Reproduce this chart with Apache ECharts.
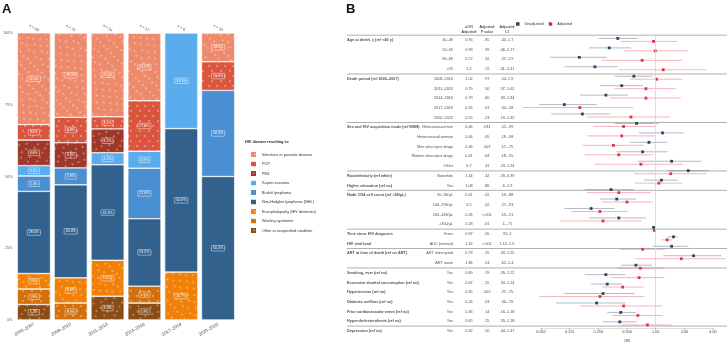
<!DOCTYPE html>
<html>
<head>
<meta charset="utf-8">
<script src="https://cdn.jsdelivr.net/npm/echarts@6/dist/echarts.min.js"></script>
<style>
  html, body { margin: 0; padding: 0; background: #fff; }
  #main { width: 727px; height: 348px; }
</style>
</head>
<body>
<div id="main"></div>
<script>
// ---------- panel A data ----------
var periods = ['2000–2007', '2008–2010', '2011–2013', '2014–2016', '2017–2019', '2020–2022'];
var periodN = [56, 34, 24, 17, 6, 10];
var diseases = ['Infections or parasitic disease', 'PCP', 'PML', 'Kaposi sarcoma', 'Burkitt lymphoma',
  'Non-Hodgkin lymphoma (NHL)', 'Encephalopathy (HIV dementia)', 'Wasting syndrome', 'Other or unspecified condition'];
var pctInfections = [32.1, 29.4, 29.2, 23.5, 0, 10.0];
var pctPCP = [5.4, 8.8, 4.2, 17.6, 0, 10.0];
var pctPML = [8.9, 8.8, 8.3, 0, 0, 0];
var pctKaposi = [3.6, 0, 4.2, 5.9, 33.3, 0];
var pctBurkitt = [5.4, 5.9, 0, 17.6, 0, 30.0];
var pctNHL = [28.6, 32.4, 33.3, 23.5, 50.0, 50.0];
var pctEnceph = [5.4, 8.8, 12.5, 0, 16.7, 0];
var pctWasting = [5.4, 5.9, 0, 5.9, 0, 0];
var pctOther = [5.4, 0, 8.3, 5.9, 0, 0];

// ---------- panel B data ----------
var groupNames = ['Age at death, y (ref <40 y)', 'Death period (ref 2000–2007)', 'Sex and HIV acquisition mode (ref MSM)',
  'Race/ethnicity (ref white)', 'Higher education (ref no)', 'Nadir CD4 cell count (ref <50/µL)',
  'Time since HIV diagnosis', 'HIV viral load', 'ART at time of death (ref on ART)',
  'Smoking, ever (ref no)', 'Excessive alcohol consumption (ref no)', 'Hypertension (ref no)',
  'Diabetes mellitus (ref no)', 'Prior cardiovascular event (ref no)', 'Hypercholesterolemia (ref no)', 'Depression (ref no)'];
var groupRows = [0, 4, 9, 14, 15, 16, 20, 21, 22, 24, 25, 26, 27, 28, 29, 30];
var separatorRows = [0, 4, 9, 14, 16, 20, 22, 24, 30];
var levels = ['40–49', '50–59', '60–69', '≥70', '2008–2010', '2011–2013', '2014–2016', '2017–2019', '2020–2022',
  'Heterosexual men', 'Heterosexual women', 'Men who inject drugs', 'Women who inject drugs', 'Other',
  'Nonwhite', 'Yes', '50–99/µL', '100–199/µL', '200–349/µL', '≥350/µL', 'Years', 'AUC (normal)',
  'ART interrupted', 'ART naive', 'Yes', 'Yes', 'Yes', 'Yes', 'Yes', 'Yes', 'Yes'];
var aor = [0.95, 0.99, 0.72, 1.2, 1.02, 0.79, 0.79, 0.16, 0.55, 0.46, 0.44, 0.36, 0.41, 0.7, 1.44, 1.08,
  0.41, 0.5, 0.26, 0.28, 0.97, 1.32, 0.73, 1.86, 0.69, 0.67, 0.45, 0.26, 0.46, 0.65, 0.82];
var aorLow = [0.43, 0.46, 0.27, 0.41, 0.54, 0.37, 0.33, 0.04, 0.19, 0.22, 0.19, 0.17, 0.18, 0.23, 0.59, 0.60,
  0.19, 0.27, 0.13, 0.1, 0.95, 1.15, 0.43, 0.62, 0.39, 0.34, 0.27, 0.06, 0.16, 0.35, 0.44];
var aorHigh = [1.7, 2.17, 1.9, 3.41, 1.9, 1.62, 1.84, 0.58, 1.42, 0.99, 0.98, 0.75, 0.95, 1.94, 3.39, 1.9,
  0.88, 0.93, 0.51, 0.71, 1, 1.5, 1.25, 5.4, 1.22, 1.24, 0.75, 0.76, 1.18, 1.18, 1.47];
var pValues = ['.85', '.99', '.32', '.72', '.97', '.50', '.60', '.01', '.23', '.031', '.05', '.007', '.04', '.31',
  '.42', '.86', '.02', '.02', '<.001', '.01', '.05', '<.001', '.25', '.24', '.19', '.25', '.002', '.03', '.14', '.15', '.50'];
var uor = [0.40, 0.325, 0.158, 0.23, 0.59, 0.44, 0.30, 0.11, 0.17, 0.63, 1.18, 0.85, 0.73, 1.47, 2.2, 1.15,
  0.34, 0.39, 0.21, 0.41, 0.95, 1.54, 1.47, 2.5, 0.62, 0.30, 0.31, 0.28, 0.24, 0.43, 0.42];
var uorLow = [0.25, 0.20, 0.078, 0.11, 0.37, 0.26, 0.16, 0.06, 0.08, 0.37, 0.67, 0.54, 0.39, 0.65, 1.33, 0.75,
  0.18, 0.26, 0.11, 0.20, 0.94, 1.33, 0.93, 1.2, 0.43, 0.18, 0.21, 0.11, 0.09, 0.31, 0.28];
var uorHigh = [0.65, 0.55, 0.31, 0.40, 0.93, 0.73, 0.51, 0.24, 0.33, 1.07, 2.0, 1.33, 1.33, 3.0, 3.55, 1.73,
  0.59, 0.62, 0.37, 0.79, 0.96, 1.7, 2.2, 4.9, 0.91, 0.48, 0.44, 0.60, 0.48, 0.62, 0.63];
var xTickLabels = ['0.062', '0.125', '0.250', '0.500', '1.00', '2.00', '4.00'];

var FONT = 'Liberation Sans, Arial, sans-serif';
var diseaseColors = ['#ee8a6c', '#d9553d', '#a0382a', '#5aacec', '#4a8fd2', '#32618e', '#f08008', '#d2700c', '#8a4b14'];
var patterned = [true, true, true, false, false, false, true, true, true];
var pctByDisease = [pctInfections, pctPCP, pctPML, pctKaposi, pctBurkitt, pctNHL, pctEnceph, pctWasting, pctOther];
var navy = '#2c4566';
var red = '#e03448';

function ciFmt(v) {
  var s = String(v);
  return v < 1 ? s.replace(/^0/, '') : s;
}

var rowCats = levels.map(function (_, i) { return String(i); });

var dom = document.getElementById('main');
var myChart = echarts.init(dom, null, { renderer: 'canvas' });

var series = [];

// stacked bars: bottom of stack first
for (var k = diseases.length - 1; k >= 0; k--) {
  (function (i) {
    var s = {
      type: 'bar',
      name: diseases[i],
      stack: 'total',
      xAxisIndex: 0,
      yAxisIndex: 0,
      barWidth: '90%',
      data: pctByDisease[i].map(function (v) { return v > 0 ? v : '-'; }),
      itemStyle: { color: diseaseColors[i], borderColor: '#fff', borderWidth: 0.4 },
      label: {
        show: true,
        position: 'inside',
        formatter: function (p) { return p.value.toFixed(1) + '%'; },
        color: '#fff',
        fontFamily: FONT,
        fontSize: 3.6,
        borderColor: 'rgba(255,255,255,0.9)',
        borderWidth: 0.5,
        borderRadius: 0.5,
        padding: [1, 1.5, 0.5, 1.5]
      }
    };
    s.itemStyle.decal = patterned[i] ? {
      symbol: 'circle',
      symbolSize: 1,
      dashArrayX: [[1.4, 5.6], [0, 3.5, 1.4, 2.1]],
      dashArrayY: [1.4, 2.1],
      color: 'rgba(255,255,255,0.4)'
    } : { symbol: 'none' };
    series.push(s);
  })(k);
}

// separator lines in panel B
series.push({
  type: 'custom',
  xAxisIndex: 1,
  yAxisIndex: 1,
  silent: true,
  clip: false,
  data: separatorRows.map(function (r) { return [0, r]; }),
  renderItem: function (params, api) {
    var r = api.value(1);
    var y = api.coord([0, r])[1] - api.size([0, 1])[1] / 2;
    var x0 = api.coord([0, r])[0];
    var x1 = api.coord([1, r])[0];
    return { type: 'line', shape: { x1: x0, y1: y, x2: x1, y2: y }, style: { stroke: '#9a9a9a', lineWidth: 0.8 } };
  }
});

// table text columns
function textColumn(xPos, rows, fmt, position, bold) {
  return {
    type: 'scatter',
    xAxisIndex: 1,
    yAxisIndex: 1,
    silent: true,
    symbolSize: 0.1,
    itemStyle: { color: 'rgba(0,0,0,0)' },
    data: rows.map(function (r) { return [xPos, r]; }),
    label: {
      show: true,
      position: position,
      distance: 0,
      formatter: function (p) { return fmt(p.dataIndex); },
      fontFamily: FONT,
      fontSize: 3.8,
      fontWeight: bold ? 'bold' : 'normal',
      color: '#222'
    }
  };
}
var allRows = levels.map(function (_, i) { return i; });
series.push(textColumn(0, groupRows, function (i) { return groupNames[i]; }, 'right', true));
series.push(textColumn(0.279, allRows, function (i) { return levels[i]; }, 'left', false));
series.push(textColumn(0.321, allRows, function (i) { return String(aor[i]); }, 'inside', false));
series.push(textColumn(0.368, allRows, function (i) { return pValues[i]; }, 'inside', false));
series.push(textColumn(0.421, allRows, function (i) { return ciFmt(aorLow[i]) + '–' + ciFmt(aorHigh[i]); }, 'inside', false));

// forest plot
function forestSeries(name, est, lo, hi, color, ciColor, offset, withRef) {
  var s = {
    type: 'custom',
    name: name,
    xAxisIndex: 2,
    yAxisIndex: 2,
    clip: false,
    itemStyle: { color: color },
    encode: { x: [0, 2, 3], y: 1 },
    data: est.map(function (v, i) { return [v, i, lo[i], hi[i]]; }),
    renderItem: function (params, api) {
      var r = api.value(1);
      var c = api.coord([api.value(0), r]);
      var a = api.coord([api.value(2), r]);
      var b = api.coord([api.value(3), r]);
      var y = c[1] + offset;
      return {
        type: 'group',
        children: [
          { type: 'line', shape: { x1: a[0], y1: y, x2: b[0], y2: y }, style: { stroke: ciColor, lineWidth: 0.9 } },
          { type: 'rect', shape: { x: c[0] - 1.4, y: y - 1.4, width: 2.8, height: 2.8 }, style: { fill: color } }
        ]
      };
    }
  };
  if (withRef) {
    s.markLine = {
      silent: true,
      symbol: 'none',
      label: { show: false },
      lineStyle: { color: '#e8cccc', type: 'solid', width: 0.8 },
      data: [{ xAxis: 1 }]
    };
  }
  return s;
}
series.push(forestSeries('Unadjusted', uor, uorLow, uorHigh, navy, 'rgba(60,85,120,0.45)', -1.5, true));
series.push(forestSeries('Adjusted', aor, aorLow, aorHigh, red, 'rgba(230,70,90,0.45)', 1.5, false));

var option = {
  animation: false,
  aria: { enabled: true, decal: { show: true } },
  textStyle: { fontFamily: FONT },
  grid: [
    { left: 15.5, width: 221, top: 33, height: 287 },
    { left: 347, right: 0, top: 35.2, height: 300.6 },
    { left: 541, width: 172, top: 35.2, height: 300.6 }
  ],
  xAxis: [
    {
      gridIndex: 0, type: 'category', data: periods,
      axisLine: { show: false }, axisTick: { show: false },
      axisLabel: { rotate: 30, interval: 0, fontSize: 4.4, color: '#444', margin: 4, fontFamily: FONT }
    },
    { gridIndex: 1, type: 'value', min: 0, max: 1, show: false },
    {
      gridIndex: 2, type: 'log', logBase: 2, min: 0.0625, max: 4, splitNumber: 6,
      axisLine: { show: true, lineStyle: { color: '#bbb', width: 0.5 } },
      axisTick: { show: true, length: 2, lineStyle: { color: '#888', width: 0.5 } },
      splitLine: { show: false },
      axisLabel: {
        fontSize: 3.8, color: '#444', margin: 2, fontFamily: FONT,
        formatter: function (v) { return xTickLabels[Math.round(Math.log2(v)) + 4]; }
      },
      name: 'OR', nameLocation: 'middle', nameGap: 8,
      nameTextStyle: { fontSize: 4, color: '#333', fontFamily: FONT }
    },
    {
      gridIndex: 0, type: 'category', position: 'top', data: periodN.map(function (n) { return 'n = ' + n; }),
      axisLine: { show: false }, axisTick: { show: false },
      axisLabel: { rotate: 30, interval: 0, align: 'center', fontSize: 3.8, color: '#444', margin: 5, fontFamily: FONT }
    }
  ],
  yAxis: [
    {
      gridIndex: 0, type: 'value', min: 0, max: 100, interval: 25,
      axisLine: { show: false }, axisTick: { show: false }, splitLine: { show: false },
      axisLabel: { fontSize: 3.6, color: '#555', margin: 3, fontFamily: FONT, formatter: function (v) { return v + '%'; } }
    },
    { gridIndex: 1, type: 'category', data: rowCats, inverse: true, show: false },
    { gridIndex: 2, type: 'category', data: rowCats, inverse: true, show: false }
  ],
  legend: [
    {
      data: diseases,
      orient: 'vertical',
      left: 244,
      top: 145,
      itemWidth: 7,
      itemHeight: 7,
      itemGap: 0.5,
      icon: 'rect',
      selectedMode: false,
      textStyle: { fontSize: 3.8, color: '#333', fontFamily: FONT, padding: [0, 0, 0, 0] }
    },
    {
      data: ['Unadjusted', 'Adjusted'],
      orient: 'horizontal',
      left: 511,
      top: 17,
      itemWidth: 3.5,
      itemHeight: 3.5,
      itemGap: 5,
      icon: 'rect',
      selectedMode: false,
      textStyle: { fontSize: 3.8, color: '#333', fontFamily: FONT }
    }
  ],
  graphic: [
    { type: 'text', x: 2, y: 3, style: { text: 'A', font: 'bold 13px ' + FONT, fill: '#111' } },
    { type: 'text', x: 346, y: 3, style: { text: 'B', font: 'bold 13px ' + FONT, fill: '#111' } },
    { type: 'text', x: 245, y: 140, style: { text: 'HIV disease resulting in:', font: 'bold 3.8px ' + FONT, fill: '#222' } },
    { type: 'text', x: 469, y: 24.5, style: { text: 'aOR\nAdjusted', font: '3.8px ' + FONT, fill: '#222', textAlign: 'center', lineHeight: 5 } },
    { type: 'text', x: 487, y: 24.5, style: { text: 'Adjusted\nP value', font: '3.8px ' + FONT, fill: '#222', textAlign: 'center', lineHeight: 5 } },
    { type: 'text', x: 507, y: 24.5, style: { text: 'Adjusted\nCI', font: '3.8px ' + FONT, fill: '#222', textAlign: 'center', lineHeight: 5 } }
  ],
  series: series
};

if (option && typeof option === 'object') {
  myChart.setOption(option);
}

window.addEventListener('resize', myChart.resize);
</script>
</body>
</html>
